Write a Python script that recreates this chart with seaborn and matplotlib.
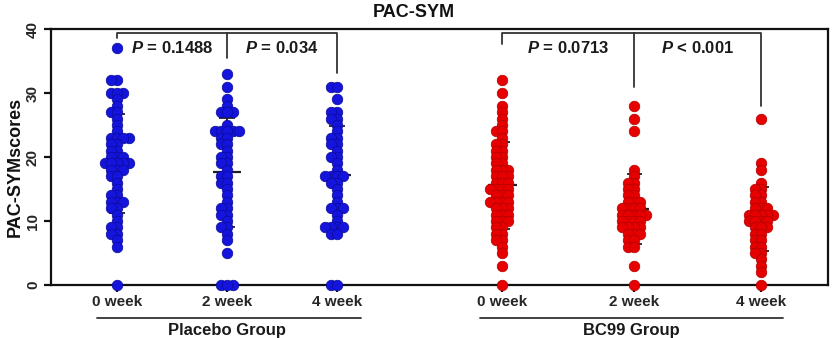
import numpy as np
import pandas as pd
import matplotlib
matplotlib.use("Agg")
import matplotlib.pyplot as plt
import matplotlib.transforms as mtransforms
import seaborn as sns

sns.set_theme(style="ticks")
plt.rcParams["font.family"] = ["Liberation Sans", "DejaVu Sans"]
plt.rcParams["font.weight"] = "bold"
plt.rcParams["mathtext.fontset"] = "custom"
plt.rcParams["mathtext.bfit"] = "Liberation Sans:bold:italic"
plt.rcParams["mathtext.it"] = "Liberation Sans:bold:italic"
plt.rcParams["mathtext.rm"] = "Liberation Sans:bold"

# ---- data -------------------------------------------------------------
weeks = ["0 week", "2 week", "4 week"]
groups = ["Placebo Group", "BC99 Group"]

placebo_0w = [37, 32, 32, 30, 30, 30, 29, 28, 27, 27, 26, 25, 24, 23, 23, 23, 23,
              22, 22, 21, 21, 20, 20, 20, 19, 19, 19, 19, 19, 18, 18, 18, 17, 17,
              16, 15, 14, 14, 13, 13, 13, 12, 12, 11, 10, 9, 9, 8, 8, 7, 6, 0]
placebo_2w = [33, 31, 29, 28, 27, 27, 27, 25, 24, 24, 24, 24, 24, 23, 23, 22, 22,
              21, 20, 20, 19, 19, 18, 17, 17, 16, 16, 15, 14, 13, 12, 12, 11, 11,
              10, 9, 9, 8, 7, 5, 0, 0, 0]
placebo_4w = [31, 31, 29, 27, 27, 26, 26, 25, 24, 23, 23, 22, 22, 21, 20, 20, 19,
              18, 17, 17, 17, 17, 16, 16, 15, 14, 13, 12, 12, 12, 11, 10, 9, 9, 9,
              9, 8, 8, 0, 0]
bc99_0w = [32, 30, 28, 27, 26, 25, 24, 24, 23, 22, 22, 21, 21, 20, 20, 19, 19, 18,
           18, 18, 17, 17, 17, 16, 16, 16, 15, 15, 15, 15, 14, 14, 14, 13, 13, 13,
           13, 12, 12, 12, 11, 11, 11, 10, 10, 10, 9, 9, 8, 8, 7, 7, 6, 5, 3, 0]
bc99_2w = [28, 26, 24, 18, 17, 16, 16, 15, 15, 14, 14, 13, 13, 13, 12, 12, 12, 12,
           11, 11, 11, 11, 11, 10, 10, 10, 10, 9, 9, 9, 9, 8, 8, 8, 7, 7, 6, 6, 3, 0]
bc99_4w = [26, 19, 18, 16, 15, 15, 14, 14, 13, 13, 12, 12, 12, 11, 11, 11, 11, 11,
           10, 10, 10, 10, 9, 9, 9, 8, 8, 7, 7, 6, 6, 5, 5, 4, 3, 2, 0]

p_labels = ["= 0.1488", "= 0.034", "= 0.0713", "< 0.001"]

series = [placebo_0w, placebo_2w, placebo_4w, bc99_0w, bc99_2w, bc99_4w]

# ---- layout -----------------------------------------------------------
xpos = [0.6, 1.6, 2.6, 4.1, 5.3, 6.45]
colors = {"Placebo Group": "#1414dc", "BC99 Group": "#e60000"}
edges = {"Placebo Group": "#0a0a9a", "BC99 Group": "#b00000"}

rows = []
for i, vals in enumerate(series):
    grp = groups[0] if i < 3 else groups[1]
    for v in vals:
        rows.append({"pos": xpos[i], "score": v, "group": grp})
df = pd.DataFrame(rows)

fig = plt.figure(figsize=(8.32, 3.38), dpi=100)
ax = fig.add_axes([51 / 832, 1 - 285 / 338, (828 - 51) / 832, (285 - 29) / 338])

ax.set_xlim(0, 7.06)
ax.set_ylim(0, 40)

# mean +/- SD behind the dots
stats = df.groupby("pos")["score"].agg(["mean", "std"]).reset_index()
for _, r in stats.iterrows():
    ax.vlines(r["pos"], r["mean"] - r["std"], r["mean"] + r["std"],
              color="#222222", lw=1.3, zorder=1)
    ax.hlines(r["mean"], r["pos"] - 0.13, r["pos"] + 0.13, color="#222222",
              lw=1.6, zorder=1)
    for yy in (r["mean"] - r["std"], r["mean"] + r["std"]):
        ax.hlines(yy, r["pos"] - 0.07, r["pos"] + 0.07, color="#222222",
                  lw=1.3, zorder=1)

# beeswarm layout with a small marker; afterwards the dots are enlarged so
# that they overlap into a dense column
swarm_colls = []
for grp in groups:
    sub = df[df["group"] == grp]
    n_before = len(ax.collections)
    sns.swarmplot(data=sub, x="pos", y="score", native_scale=True, ax=ax,
                  color=colors[grp], size=4.1, linewidth=0, zorder=3,
                  warn_thresh=1.0)
    for coll in ax.collections[n_before:]:
        swarm_colls.append((coll, grp))

ax.set_xlim(0, 7.06)
ax.set_ylim(0, 40)
fig.canvas.draw()  # fixes the swarm offsets
for coll, grp in swarm_colls:
    if "draw" in coll.__dict__:
        del coll.draw  # keep the computed layout
    coll.set_sizes([58])
    coll.set_clip_on(False)
    coll.set_edgecolor(edges[grp])
    coll.set_linewidth(0.5)
    coll.set_zorder(3)

ax.set_xticks(xpos)
ax.set_xticklabels(weeks * 2, fontsize=11, fontweight="bold")
ax.set_yticks([0, 10, 20, 30, 40])
ax.set_yticklabels(["0", "10", "20", "30", "40"], rotation=90, va="center",
                   fontsize=11, fontweight="bold")
ax.set_xlabel("")
ax.set_ylabel("")
for sp in ax.spines.values():
    sp.set_visible(True)
    sp.set_linewidth(1.6)
    sp.set_color("#111111")
ax.tick_params(axis="both", length=5, width=1.6, color="#111111", pad=2)
ax.tick_params(axis="y", pad=3)

# significance brackets
bracket = dict(color="#333333", lw=1.3, clip_on=False, zorder=2)
ytop = 39.3
for (a, b, c), (ya, yb, yc) in [((0, 1, 2), (38.6, 35.5, 33.2)),
                                ((3, 4, 5), (37.6, 30.9, 28.0))]:
    ax.plot([xpos[a], xpos[a], xpos[c], xpos[c]], [ya, ytop, ytop, yc], **bracket)
    ax.plot([xpos[b], xpos[b]], [ytop, yb], **bracket)

pairs = [(0, 1), (1, 2), (3, 4), (4, 5)]
for (a, b), lab in zip(pairs, p_labels):
    ax.text((xpos[a] + xpos[b]) / 2, 37.1, r"$\mathbfit{P}$ " + lab,
            ha="center", va="center", fontsize=12, fontweight="bold",
            color="#1a1a1a", zorder=4)

# group labels under the week tick labels
trans = mtransforms.blended_transform_factory(ax.transData, ax.transAxes)
for grp, (lo, hi), ctr in [(groups[0], (0.42, 2.82), xpos[1]),
                           (groups[1], (3.9, 6.65), (xpos[3] + xpos[5]) / 2)]:
    ax.plot([lo, hi], [-0.129, -0.129], transform=trans, color="#333333",
            lw=1.3, clip_on=False)
    ax.text(ctr, -0.176, grp, transform=trans, ha="center", va="center",
            fontsize=12, fontweight="bold", color="#1a1a1a")

fig.text(0.497, 0.963, "PAC-SYM", ha="center", va="center", fontsize=13,
         fontweight="bold", color="#111111")
fig.text(15 / 832, 1 - 167 / 338, "PAC-SYMscores", rotation=90, ha="center",
         va="center", fontsize=13, fontweight="bold", color="#111111")

fig.savefig("out.png", dpi=100)
